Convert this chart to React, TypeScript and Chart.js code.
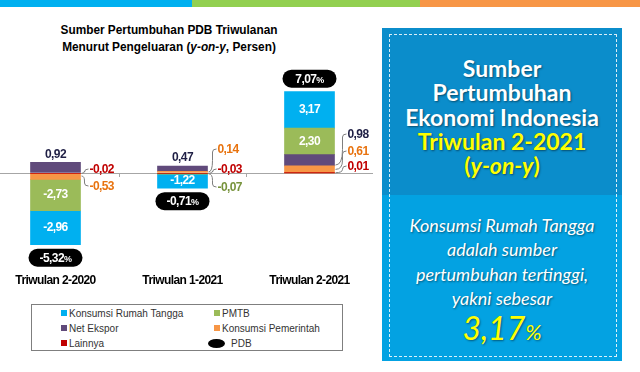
import React, { useEffect, useRef } from "react";
import { Chart, registerables } from "chart.js";

Chart.register(...registerables);

// ---- data ----
const categories = ["Triwulan 2-2020", "Triwulan 1-2021", "Triwulan 2-2021"];
const lainnya = [-0.02, -0.03, 0.01];
const konsumsiPemerintah = [-0.53, 0.14, 0.61];
const netEkspor = [0.92, 0.47, 0.98];
const pmtb = [-2.73, -0.07, 2.3];
const konsumsiRumahTangga = [-2.96, -1.22, 3.17];
const pdb = [-5.32, -0.71, 7.07];

const seriesNames = ["Lainnya", "Konsumsi Pemerintah", "Net Ekspor", "PMTB", "Konsumsi Rumah Tangga"];
const seriesValues = [lainnya, konsumsiPemerintah, netEkspor, pmtb, konsumsiRumahTangga];
const seriesColors = ["#C00000", "#F79646", "#604A7B", "#9BBB59", "#00B0F0"];
const labelColors = ["#C00000", "#E8730F", "#1F1F45", "#77933C", "#FFFFFF"];
const legendOrder = [4, 3, 2, 1, 0];

// label placement: "in" = inside, "up" = above segment, number = right side, offset from zero line
const placement: (string | number)[][] = [
  [-4, -4, -7],
  [13, -24, -22],
  ["up", "up", -39],
  ["in", 14, "in"],
  ["in", "in", "in"],
];
const rightGap = [9, 10, 13];

const FONT = "'Liberation Sans Narrow','Arial Narrow','Liberation Sans',Arial,sans-serif";
const SPACING = "-0.6px";
const fmt = (v: number) => v.toFixed(2).replace(".", ",");

const condense = {
  id: "condense",
  beforeDraw(chart: any) {
    (chart.ctx as any).letterSpacing = SPACING;
  },
  afterDraw(chart: any) {
    (chart.ctx as any).letterSpacing = "0px";
  },
};

const overlay = {
  id: "overlay",
  afterDatasetsDraw(chart: any) {
    const ctx = chart.ctx;
    const xs = chart.scales.x;
    const ys = chart.scales.y;
    const zero = ys.getPixelForValue(0);
    ctx.save();
    ctx.letterSpacing = SPACING;
    // category boundary ticks on the zero line
    ctx.strokeStyle = "#A6A6A6";
    ctx.lineWidth = 1;
    for (let i = 0; i < categories.length - 1; i++) {
      const bx = Math.round((xs.getPixelForValue(i) + xs.getPixelForValue(i + 1)) / 2) + 0.5;
      ctx.beginPath();
      ctx.moveTo(bx, zero);
      ctx.lineTo(bx, zero + 4);
      ctx.stroke();
    }
    ctx.font = `bold 12px ${FONT}`;
    ctx.textBaseline = "middle";
    for (let d = 0; d < seriesValues.length; d++) {
      const meta = chart.getDatasetMeta(d);
      for (let i = 0; i < categories.length; i++) {
        const el: any = meta.data[i];
        const v = seriesValues[d][i];
        const mode = placement[d][i];
        const top = Math.min(el.y, el.base);
        const bot = Math.max(el.y, el.base);
        const mid = (top + bot) / 2;
        const txt = fmt(v);
        if (mode === "in") {
          ctx.fillStyle = "#FFFFFF";
          ctx.textAlign = "center";
          ctx.fillText(txt, el.x, mid);
        } else if (mode === "up") {
          ctx.fillStyle = labelColors[d];
          ctx.textAlign = "center";
          ctx.fillText(txt, el.x, top - 8);
        } else {
          const ly = zero + (mode as number);
          const right = el.x + el.width / 2;
          const lx = right + rightGap[i];
          const sy = Math.max(Math.min(mid, zero + 3), zero - 8);
          ctx.strokeStyle = "#7F7F7F";
          ctx.beginPath();
          ctx.moveTo(right + 1, sy);
          ctx.quadraticCurveTo(lx - 5, sy, lx - 5, (sy + ly) / 2);
          ctx.lineTo(lx - 5, ly + (ly < sy ? 3 : -3));
          ctx.quadraticCurveTo(lx - 5, ly, lx - 1, ly);
          ctx.stroke();
          ctx.fillStyle = labelColors[d];
          ctx.textAlign = "left";
          ctx.fillText(txt, lx, ly + 0.5);
        }
      }
    }
    // PDB pills
    const pdbMeta = chart.getDatasetMeta(seriesValues.length);
    for (let i = 0; i < categories.length; i++) {
      let top = zero;
      let bot = zero;
      for (let d = 0; d < seriesValues.length; d++) {
        const el: any = chart.getDatasetMeta(d).data[i];
        top = Math.min(top, el.y, el.base);
        bot = Math.max(bot, el.y, el.base);
      }
      const cx = (pdbMeta.data[i] as any).x;
      const cy = pdb[i] >= 0 ? top - 13 : bot + 13;
      const w = 54;
      const h = 18;
      ctx.fillStyle = "#000000";
      ctx.beginPath();
      ctx.roundRect(cx - w / 2, cy - h / 2, w, h, h / 2);
      ctx.fill();
      const num = fmt(pdb[i]);
      ctx.font = `bold 12px ${FONT}`;
      const w1 = ctx.measureText(num).width;
      ctx.font = `bold 9px ${FONT}`;
      const w2 = ctx.measureText("%").width;
      const sx = cx - (w1 + w2) / 2;
      ctx.fillStyle = "#FFFFFF";
      ctx.textAlign = "left";
      ctx.font = `bold 12px ${FONT}`;
      ctx.fillText(num, sx, cy + 0.5);
      ctx.font = `bold 9px ${FONT}`;
      ctx.fillText("%", sx + w1, cy + 1.5);
    }
    ctx.restore();
  },
};

function ChartBox() {
  const ref = useRef<HTMLCanvasElement>(null);
  useEffect(() => {
    if (!ref.current) return;
    const datasets: any[] = seriesValues.map((vals, d) => ({
      type: "bar",
      label: seriesNames[d],
      data: vals,
      backgroundColor: seriesColors[d],
      borderWidth: 0,
      barThickness: 50,
      stack: "s",
    }));
    datasets.push({
      type: "line",
      label: "PDB",
      data: pdb,
      showLine: false,
      pointRadius: 0,
      backgroundColor: "#000000",
      borderColor: "#000000",
      stack: "pdb",
    });
    const chart = new Chart(ref.current, {
      type: "bar",
      data: { labels: categories, datasets },
      options: {
        animation: false,
        responsive: false,
        maintainAspectRatio: false,
        layout: { padding: { top: 26, bottom: 0, left: 0, right: 0 } },
        plugins: { legend: { display: false }, tooltip: { enabled: false }, title: { display: false } },
        scales: {
          x: {
            stacked: true,
            offset: true,
            grid: { display: false, drawTicks: false },
            border: { display: false },
            ticks: {
              padding: 8,
              color: "#000000",
              font: { family: FONT, size: 12, weight: "bold" },
            },
            afterFit: (s: any) => {
              s.height = 30;
            },
          },
          y: {
            stacked: true,
            min: -8,
            max: 8,
            border: { display: false },
            ticks: { display: false, stepSize: 1 },
            grid: {
              drawTicks: false,
              color: (c: any) => (c.tick && c.tick.value === 0 ? "#A6A6A6" : "rgba(0,0,0,0)"),
              lineWidth: 1,
            },
            afterFit: (s: any) => {
              s.width = 0;
            },
          },
        },
      } as any,
      plugins: [condense, overlay],
    });
    return () => chart.destroy();
  }, []);
  return (
    <canvas
      ref={ref}
      width={381}
      height={240}
      style={{ position: "absolute", left: -8, top: 55, width: 381, height: 240 }}
    />
  );
}

function Legend() {
  const cols = [29, 182];
  const rows = [8, 23, 38];
  const items = [
    ...legendOrder.map((d) => ({ name: seriesNames[d], color: seriesColors[d], pill: false })),
    { name: "PDB", color: "#000000", pill: true },
  ];
  return (
    <div
      style={{
        position: "absolute",
        left: 31,
        top: 304,
        width: 312,
        height: 47,
        border: "1px solid #7F7F7F",
        boxSizing: "border-box",
        fontFamily: "'Liberation Sans',Arial,sans-serif",
        fontSize: 10,
        color: "#333333",
      }}
    >
      {items.map((it, k) => {
        const cx = cols[k % 2];
        const cy = rows[Math.floor(k / 2)];
        return (
          <div key={k} style={{ position: "absolute", left: it.pill ? cx - 6 : cx, top: cy - 7, height: 14, display: "flex", alignItems: "center", whiteSpace: "nowrap" }}>
            {it.pill ? (
              <span style={{ display: "inline-block", width: 17, height: 9, borderRadius: "50%", background: "#000", marginRight: 6 }} />
            ) : (
              <span style={{ display: "inline-block", width: 6, height: 6, background: it.color, marginRight: 2 }} />
            )}
            <span>{it.name}</span>
          </div>
        );
      })}
    </div>
  );
}

function Panel() {
  const shadow = "1px 1px 2px rgba(0,0,0,0.45)";
  return (
    <div style={{ position: "absolute", left: 382, top: 28, width: 240, height: 333, background: "#03A2E2", fontFamily: "Lato,'Open Sans',sans-serif" }}>
      <div style={{ position: "absolute", left: 0, top: 0, width: 240, height: 167, background: "#0B8DCB" }} />
      <div style={{ position: "absolute", left: 7, top: 6, right: 5, bottom: 4, border: "1.5px dashed rgba(255,255,255,0.85)" }} />
      <div style={{ position: "absolute", left: 0, top: 28, width: 240, textAlign: "center", fontWeight: 700, fontSize: 23, lineHeight: "24.3px", color: "#FFFFFF", textShadow: shadow }}>
        <div>Sumber</div>
        <div>Pertumbuhan</div>
        <div>Ekonomi Indonesia</div>
        <div style={{ color: "#FFFF00" }}>Triwulan 2-2021</div>
        <div style={{ color: "#FFFF00" }}>
          (<i>y-on-y</i>)
        </div>
      </div>
      <div style={{ position: "absolute", left: 0, top: 185, width: 240, textAlign: "center", fontStyle: "italic", fontSize: 18, lineHeight: "24.3px", color: "#FFFFFF", textShadow: shadow }}>
        <div>Konsumsi Rumah Tangga</div>
        <div>adalah sumber</div>
        <div>pertumbuhan tertinggi,</div>
        <div>yakni sebesar</div>
        <div style={{ color: "#FFFF00", fontSize: 32, lineHeight: "36px", marginTop: 0 }}>
          3,17<span style={{ fontSize: 22 }}>%</span>
        </div>
      </div>
    </div>
  );
}

export default function App() {
  return (
    <div style={{ position: "absolute", left: 0, top: 0, width: 640, height: 372, background: "#FFFFFF", overflow: "hidden" }}>
      <div style={{ position: "absolute", left: 0, top: 0, width: 192, height: 7, background: "#00B0F0" }} />
      <div style={{ position: "absolute", left: 192, top: 0, width: 228, height: 7, background: "#92D050" }} />
      <div style={{ position: "absolute", left: 420, top: 0, width: 220, height: 7, background: "#F79646" }} />
      <div
        style={{
          position: "absolute",
          left: 0,
          top: 21,
          width: 338,
          textAlign: "center",
          fontFamily: FONT,
          fontWeight: 700,
          fontSize: 13,
          lineHeight: "17px",
          color: "#000000",
          transform: "scaleX(0.91)",
          transformOrigin: "169px 0",
        }}
      >
        <div>Sumber Pertumbuhan PDB Triwulanan</div>
        <div>
          Menurut Pengeluaran (<i>y-on-y</i>, Persen)
        </div>
      </div>
      <ChartBox />
      <Legend />
      <Panel />
    </div>
  );
}
